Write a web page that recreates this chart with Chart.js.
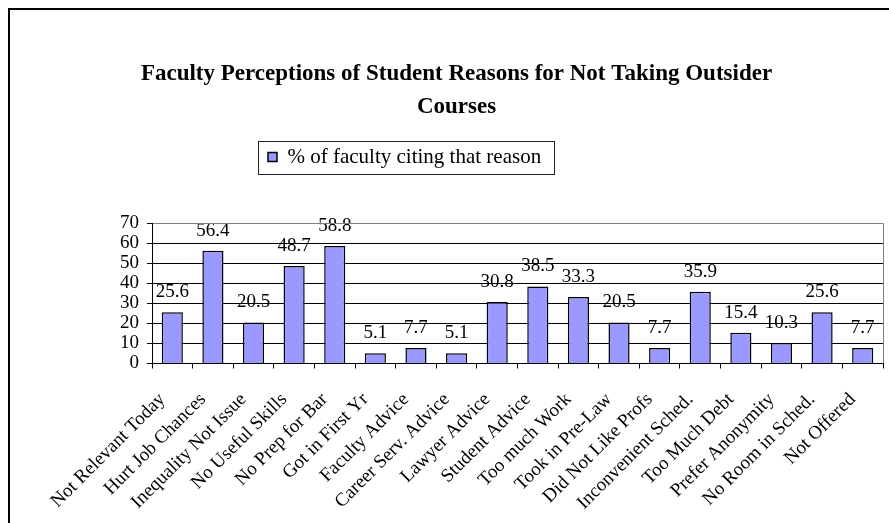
<!DOCTYPE html>
<html>
<head>
<meta charset="utf-8">
<script src="https://cdn.jsdelivr.net/npm/chart.js@4.4.1/dist/chart.umd.min.js"></script>
<style>
  html, body { margin: 0; padding: 0; background: #fff; }
</style>
</head>
<body>
<canvas id="reasons_chart" width="889" height="523"></canvas>
<script>
var categories = ["Not Relevant Today", "Hurt Job Chances", "Inequality Not Issue", "No Useful Skills",
    "No Prep for Bar", "Got in First Yr", "Faculty Advice", "Career Serv. Advice", "Lawyer Advice",
    "Student Advice", "Too much Work", "Took in Pre-Law", "Did Not Like Profs", "Inconvenient Sched.",
    "Too Much Debt", "Prefer Anonymity", "No Room in Sched.", "Not Offered"];
var pctValues = [25.6, 56.4, 20.5, 48.7, 58.8, 5.1, 7.7, 5.1, 30.8, 38.5, 33.3, 20.5, 7.7, 35.9, 15.4, 10.3, 25.6, 7.7];
var yTicks = [0, 10, 20, 30, 40, 50, 60, 70];
var seriesName = "% of faculty citing that reason";
var titleLines = ["Faculty Perceptions of Student Reasons for Not Taking Outsider", "Courses"];

var serif = "'Liberation Serif', 'Times New Roman', serif";

var extrasPlugin = {
    id: 'extras',
    afterLayout: function(chart) {
        // legend sits left of centre, title a bit right of it
        var lg = chart.legend, w = lg.width;
        lg.left = 258;
        lg.right = lg.left + w;
        var t = chart.titleBlock;
        t.left += 15;
        t.right += 15;
    },
    beforeDraw: function(chart) {
        // value labels first so the grid lines run over them
        var ctx = chart.ctx;
        var meta = chart.getDatasetMeta(0);
        var data = chart.data.datasets[0].data;
        ctx.save();
        ctx.font = '19px ' + serif;
        ctx.fillStyle = '#000';
        ctx.textAlign = 'center';
        ctx.textBaseline = 'middle';
        meta.data.forEach(function(bar, i) {
            ctx.fillText(data[i].toFixed(1), bar.x, bar.y - 20);
        });
        ctx.restore();
    },
    afterDraw: function(chart) {
        var ctx = chart.ctx;
        var hb = chart.legend.legendHitBoxes[0];
        ctx.save();
        ctx.strokeStyle = '#222';
        ctx.lineWidth = 1;
        ctx.strokeRect(Math.round(hb.left - 10) + 0.5, Math.round(hb.top - 6) + 0.5, Math.round(hb.width + 23), Math.round(hb.height + 12));
        // outer frame
        ctx.strokeStyle = '#000';
        ctx.lineWidth = 2;
        ctx.beginPath();
        ctx.moveTo(9, 523);
        ctx.lineTo(9, 9);
        ctx.lineTo(889, 9);
        ctx.stroke();
        ctx.restore();
    }
};

new Chart("reasons_chart", {
    type: "bar",
    data: {
        labels: categories,
        datasets: [{
            label: seriesName,
            data: pctValues,
            backgroundColor: "#9999ff",
            borderColor: "#000",
            borderWidth: 1.5,
            barPercentage: 0.52,
            categoryPercentage: 1
        }]
    },
    options: {
        responsive: false,
        animation: false,
        events: [],
        layout: { padding: { left: 0, right: 6, top: 0, bottom: 0 } },
        plugins: {
            title: {
                display: true,
                text: titleLines,
                color: '#000',
                font: { family: serif, size: 23, weight: 'bold', lineHeight: '33px' },
                padding: { top: 57.5, bottom: 13 }
            },
            legend: {
                display: true,
                align: 'start',
                labels: {
                    color: '#000',
                    font: { family: serif, size: 21 },
                    boxWidth: 9,
                    boxHeight: 9,
                    padding: 10
                }
            },
            subtitle: {
                // empty spacer between legend and plot
                display: true,
                text: '',
                weight: 500,
                font: { size: 1, lineHeight: '1px' },
                padding: { top: 45, bottom: 0 }
            },
            tooltip: { enabled: false }
        },
        scales: {
            x: {
                afterFit: function(scale) {
                    scale.height = 159.5;
                    scale.paddingLeft = 0;
                    scale.paddingRight = 0;
                },
                border: { color: '#000', width: 1 },
                grid: {
                    offset: true,
                    drawOnChartArea: true,
                    color: function(c) { return c.type === 'tick' ? 'rgba(0,0,0,0)' : '#808080'; },
                    tickColor: '#000',
                    tickLength: 5
                },
                ticks: {
                    autoSkip: false,
                    minRotation: 45,
                    maxRotation: 45,
                    color: '#000',
                    padding: 20,
                    labelOffset: -10,
                    font: { family: serif, size: 19 }
                }
            },
            y: {
                min: yTicks[0],
                max: yTicks[yTicks.length - 1],
                afterFit: function(scale) { scale.width = 152; },
                border: { color: '#000', width: 1 },
                grid: {
                    color: function(c) { return c.tick && c.tick.value === yTicks[yTicks.length - 1] ? '#808080' : '#000'; },
                    tickColor: '#000',
                    tickLength: 5
                },
                ticks: {
                    autoSkip: false,
                    stepSize: yTicks[1] - yTicks[0],
                    color: '#000',
                    padding: 8,
                    font: { family: serif, size: 19, lineHeight: 1 }
                }
            }
        }
    },
    plugins: [extrasPlugin]
});
</script>
</body>
</html>
